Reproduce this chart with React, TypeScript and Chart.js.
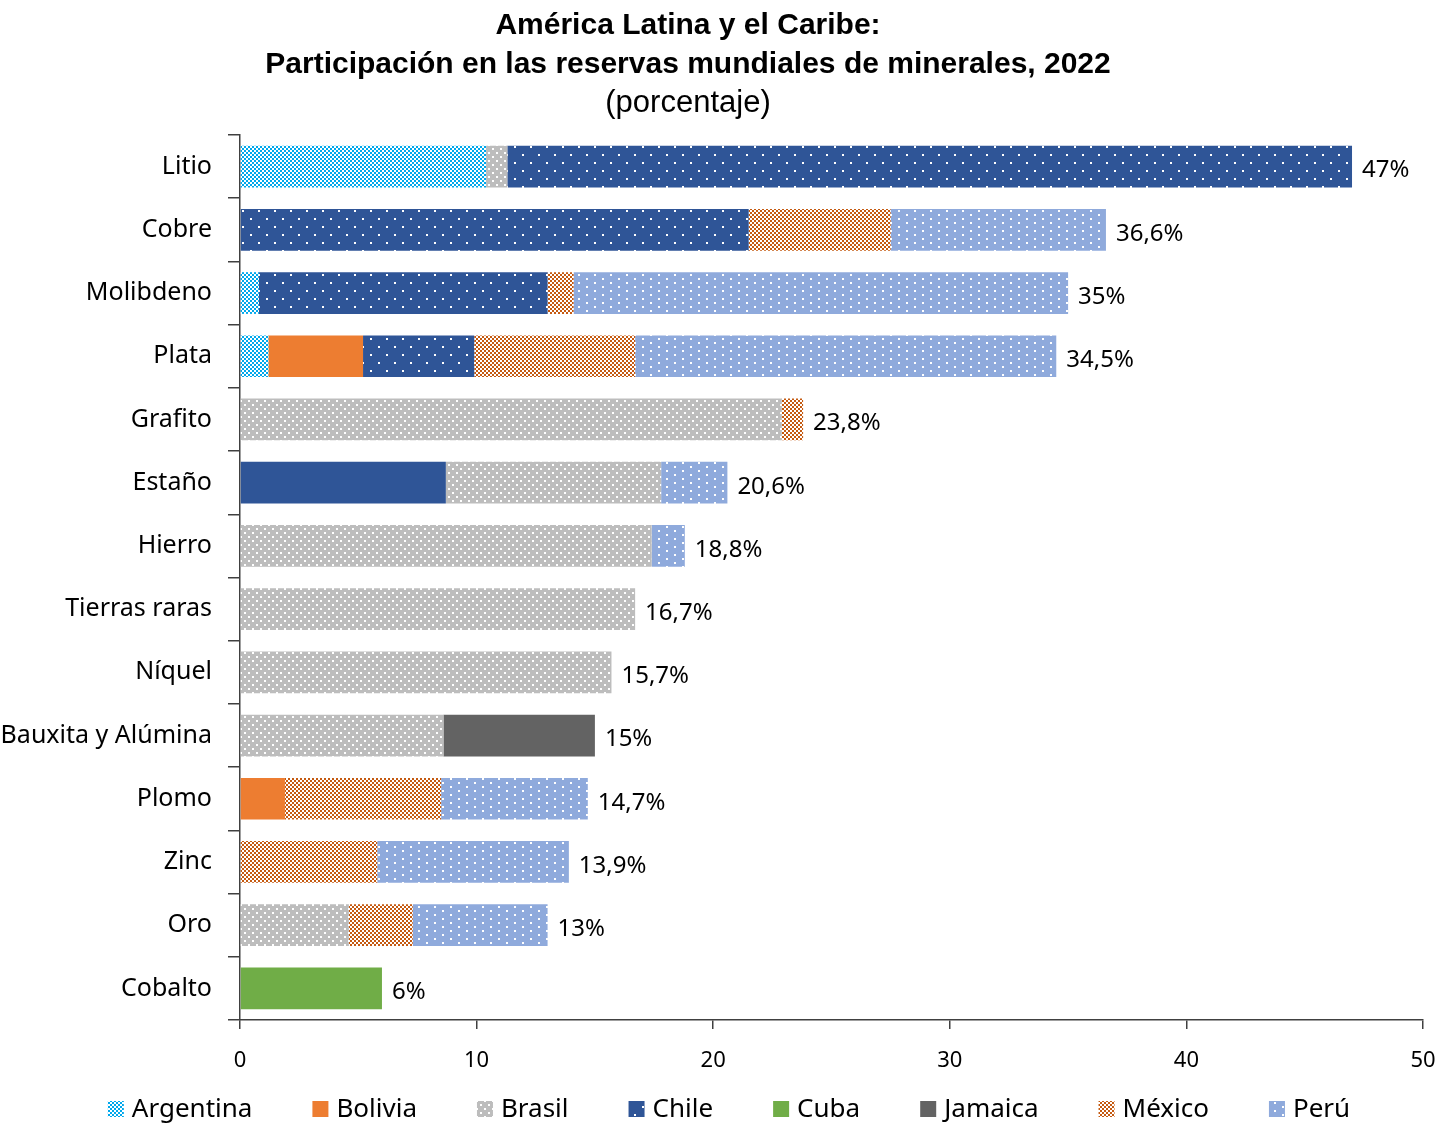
import React, { useEffect, useRef } from "react";
import { Chart, registerables } from "chart.js";

Chart.register(...registerables);

const categories = [
  "Litio", "Cobre", "Molibdeno", "Plata", "Grafito", "Estaño", "Hierro",
  "Tierras raras", "Níquel", "Bauxita y Alúmina", "Plomo", "Zinc", "Oro", "Cobalto",
];

const countries = ["Argentina", "Bolivia", "Brasil", "Chile", "Cuba", "Jamaica", "México", "Perú"];

const argentina = [10.4, null, 0.8, 1.2, null, null, null, null, null, null, null, null, null, null];
const bolivia = [null, null, null, 4.0, null, 8.7, null, null, null, null, 1.9, null, null, null];
const brasil = [0.9, null, null, null, 22.9, 9.1, 17.4, 16.7, 15.7, 8.6, null, null, 4.6, null];
const chile = [35.7, 21.5, 12.2, 4.7, null, null, null, null, null, null, null, null, null, null];
const cuba = [null, null, null, null, null, null, null, null, null, null, null, null, null, 6.0];
const jamaica = [null, null, null, null, null, null, null, null, null, 6.4, null, null, null, null];
const mexico = [null, 6.0, 1.1, 6.8, 0.9, null, null, null, null, null, 6.6, 5.8, 2.7, null];
const peru = [null, 9.1, 20.9, 17.8, null, 2.8, 1.4, null, null, null, 6.2, 8.1, 5.7, null];

const xTicks = [0, 10, 20, 30, 40, 50];

const titleLines = ["América Latina y el Caribe:", "Participación en las reservas mundiales de minerales, 2022"];
const subtitleText = "(porcentaje)";

function checker(c1: string, c2: string, cell: number) {
  const t = document.createElement("canvas");
  t.width = cell * 2;
  t.height = cell * 2;
  const g = t.getContext("2d")!;
  g.fillStyle = c1;
  g.fillRect(0, 0, cell * 2, cell * 2);
  g.fillStyle = c2;
  g.fillRect(0, 0, cell, cell);
  g.fillRect(cell, cell, cell, cell);
  return t;
}

function dots(bg: string, w: number, h: number, pts: number[][], size: number) {
  const t = document.createElement("canvas");
  t.width = w;
  t.height = h;
  const g = t.getContext("2d")!;
  g.fillStyle = bg;
  g.fillRect(0, 0, w, h);
  g.fillStyle = "#ffffff";
  pts.forEach(([x, y]) => g.fillRect(x, y, size, size));
  return t;
}

export default function App() {
  const ref = useRef<HTMLCanvasElement>(null);

  useEffect(() => {
    document.body.style.margin = "0";
    const canvas = ref.current!;
    const ctx = canvas.getContext("2d")!;
    const pat = (c: HTMLCanvasElement) => ctx.createPattern(c, "repeat")!;

    const colArg = pat(checker("#00A8EC", "#ffffff", 2));
    const colBol = "#ED7D31";
    const colBra = pat(dots("#BDBDBD", 8, 8, [[0, 0], [4, 4]], 2));
    const colChi = pat(dots("#2F5597", 16, 16, [[2, 2], [10, 10]], 2));
    const colCub = "#70AD47";
    const colJam = "#636363";
    const colMex = pat(checker("#C55A11", "#ffffff", 2));
    const colPer = pat(dots("#8FAADC", 16, 8, [[2, 2], [10, 6]], 2));
    const estanoIdx = categories.indexOf("Estaño");

    const series = [argentina, bolivia, brasil, chile, cuba, jamaica, mexico, peru];
    const colors: any[] = [colArg, colBol, colBra, colChi, colCub, colJam, colMex, colPer];

    const datasets = series.map((d, i) => ({
      label: countries[i],
      data: d,
      backgroundColor:
        i === 1
          ? (c: any) => (c.dataIndex === estanoIdx ? "#2F5597" : colBol)
          : colors[i],
      borderWidth: 0,
      categoryPercentage: 1,
      barPercentage: 0.66,
    }));

    const labelFont = "'Noto Sans', sans-serif";

    const totalsPlugin = {
      id: "totals",
      afterDatasetsDraw(chart: any) {
        const c = chart.ctx;
        const xs = chart.scales.x;
        const ys = chart.scales.y;
        c.save();
        c.font = `24px ${labelFont}`;
        c.fillStyle = "#000";
        c.textAlign = "left";
        c.textBaseline = "middle";
        categories.forEach((_, i) => {
          let sum = 0;
          series.forEach((s) => (sum += (s[i] as number) || 0));
          sum = Math.round(sum * 10) / 10;
          const txt = String(sum).replace(".", ",") + "%";
          c.fillText(txt, xs.getPixelForValue(sum) + 10, ys.getPixelForValue(i) + 4);
        });
        c.restore();
      },
    };

    const titlePlugin = {
      id: "customTitle",
      afterDraw(chart: any) {
        const c = chart.ctx;
        c.save();
        c.fillStyle = "#000";
        c.textAlign = "center";
        c.textBaseline = "middle";
        c.font = `bold 30px 'Liberation Sans', Arial, sans-serif`;
        c.fillText(titleLines[0], 688, 26);
        c.fillText(titleLines[1], 688, 65);
        c.font = `31px 'Liberation Sans', Arial, sans-serif`;
        c.fillText(subtitleText, 688, 103);
        c.restore();
      },
    };

    const legendPlugin = {
      id: "customLegend",
      afterDraw(chart: any) {
        const c = chart.ctx;
        c.save();
        c.font = `26px ${labelFont}`;
        c.textBaseline = "middle";
        c.textAlign = "left";
        const box = 16;
        const gapBoxText = 8;
        const gap = 60;
        const widths = countries.map((n) => box + gapBoxText + c.measureText(n).width);
        const total = widths.reduce((a, b) => a + b, 0) + gap * (countries.length - 1);
        let x = 729 - total / 2;
        const y = 1109;
        countries.forEach((n, i) => {
          c.fillStyle = i === 1 ? colBol : colors[i];
          c.fillRect(x, y - box / 2, box, box);
          c.fillStyle = "#000";
          c.fillText(n, x + box + gapBoxText, y + 1);
          x += widths[i] + gap;
        });
        c.restore();
      },
    };

    const chart = new Chart(ctx, {
      type: "bar",
      data: { labels: categories, datasets },
      plugins: [totalsPlugin, titlePlugin, legendPlugin],
      options: {
        animation: false,
        responsive: false,
        indexAxis: "y",
        layout: { padding: { top: 135, bottom: 52, right: 24, left: 0 } },
        plugins: {
          legend: { display: false },
          title: { display: false },
          tooltip: { enabled: false },
        },
        scales: {
          x: {
            stacked: true,
            min: 0,
            max: 50,
            afterBuildTicks: (s: any) => {
              s.ticks = xTicks.map((v) => ({ value: v }));
            },
            afterFit: (s: any) => {
              s.height = 60;
              s.paddingLeft = 0;
              s.paddingRight = 0;
            },
            ticks: {
              font: { family: "'Noto Sans', sans-serif", size: 22 },
              color: "#000",
              padding: 19,
            },
            grid: { drawOnChartArea: false, drawTicks: true, tickLength: 9, color: "#404040", lineWidth: 1.5 },
            border: { display: true, color: "#404040", width: 1.5 },
          },
          y: {
            stacked: true,
            afterFit: (s: any) => {
              s.width = 240;
            },
            ticks: {
              font: { family: "'Noto Sans', sans-serif", size: 25 },
              color: "#000",
              padding: 16,
            },
            grid: { drawOnChartArea: false, drawTicks: true, tickLength: 12, color: "#404040", lineWidth: 1.5, offset: true },
            border: { display: true, color: "#404040", width: 1.5 },
          },
        },
      },
    });
    return () => chart.destroy();
  }, []);

  return (
    <div style={{ width: 1447, height: 1132 }}>
      <canvas ref={ref} width={1447} height={1132} style={{ display: "block" }} />
    </div>
  );
}
